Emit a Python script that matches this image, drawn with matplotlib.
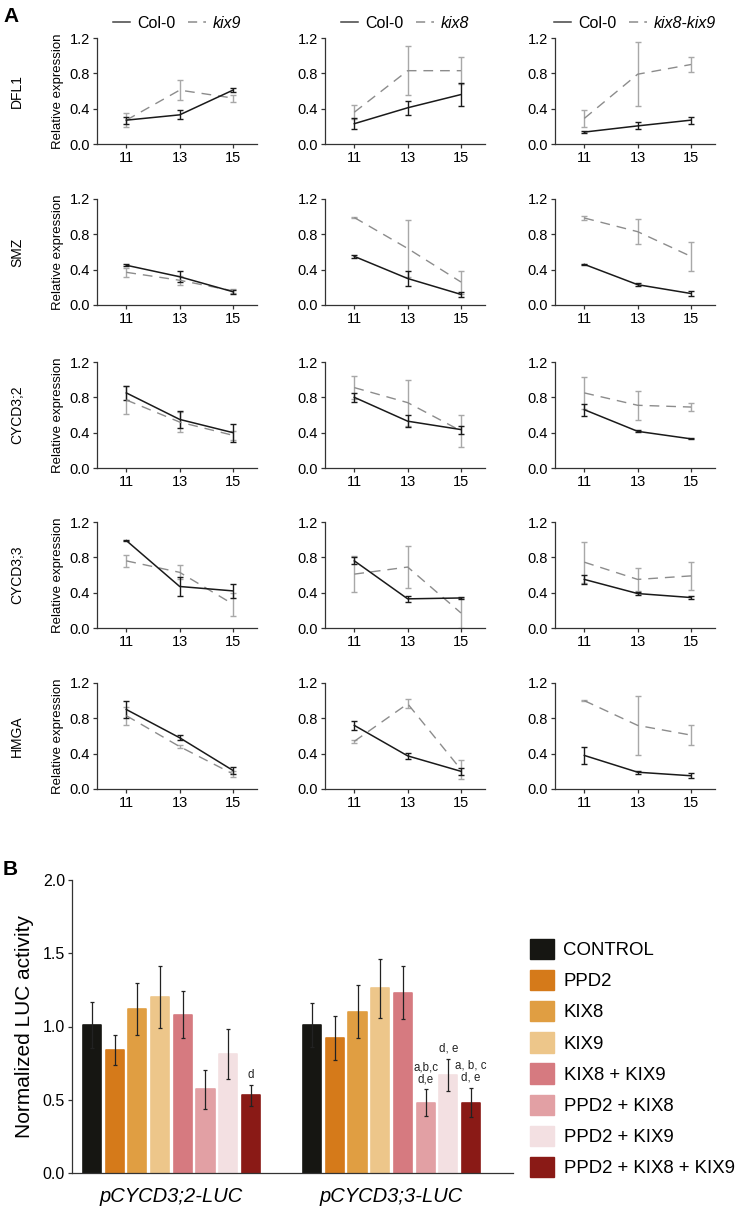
import matplotlib
matplotlib.use("Agg")
import matplotlib.pyplot as plt
from matplotlib.patches import Patch
from matplotlib.lines import Line2D
import numpy as np

plt.rcParams['font.family'] = ['Liberation Sans', 'DejaVu Sans']

W, H = 740, 1211
fig = plt.figure(figsize=(W / 100, H / 100), dpi=100)

def add_ax(x, y, w, h):
    # pixel box (left, top, width, height) -> figure fraction
    return fig.add_axes([x / W, 1 - (y + h) / H, w / W, h / H])

# ---------------- panel A data ----------------
days = [11, 13, 15]
genes = ['DFL1', 'SMZ', 'CYCD3;2', 'CYCD3;3', 'HMGA']
mutants = ['kix9', 'kix8', 'kix8-kix9']

# [gene][column][day]
col0_mean = [
    [[0.27, 0.33, 0.61], [0.23, 0.41, 0.56], [0.135, 0.205, 0.27]],
    [[0.45, 0.32, 0.15], [0.55, 0.30, 0.12], [0.46, 0.23, 0.13]],
    [[0.85, 0.55, 0.40], [0.80, 0.53, 0.435], [0.66, 0.415, 0.33]],
    [[0.99, 0.47, 0.42], [0.76, 0.33, 0.34], [0.55, 0.39, 0.345]],
    [[0.90, 0.58, 0.21], [0.72, 0.375, 0.20], [0.38, 0.19, 0.15]],
]
col0_err = [
    [[0.04, 0.05, 0.02], [0.065, 0.08, 0.13], [0.015, 0.04, 0.04]],
    [[0.01, 0.06, 0.02], [0.02, 0.09, 0.03], [0.005, 0.015, 0.03]],
    [[0.08, 0.10, 0.10], [0.05, 0.07, 0.045], [0.07, 0.01, 0.005]],
    [[0.005, 0.11, 0.075], [0.04, 0.03, 0.015], [0.05, 0.02, 0.02]],
    [[0.095, 0.03, 0.04], [0.05, 0.035, 0.04], [0.10, 0.015, 0.03]],
]
mut_mean = [
    [[0.27, 0.61, 0.52], [0.36, 0.83, 0.83], [0.29, 0.79, 0.90]],
    [[0.37, 0.28, 0.16], [0.99, 0.64, 0.26], [0.985, 0.83, 0.55]],
    [[0.77, 0.52, 0.37], [0.91, 0.74, 0.42], [0.85, 0.71, 0.69]],
    [[0.76, 0.63, 0.27], [0.61, 0.69, 0.17], [0.745, 0.55, 0.59]],
    [[0.83, 0.48, 0.17], [0.54, 0.965, 0.22], [1.0, 0.72, 0.61]],
]
mut_err = [
    [[0.08, 0.11, 0.04], [0.08, 0.28, 0.15], [0.10, 0.36, 0.08]],
    [[0.05, 0.05, 0.02], [0.005, 0.32, 0.13], [0.02, 0.14, 0.16]],
    [[0.16, 0.11, 0.05], [0.13, 0.26, 0.18], [0.18, 0.165, 0.045]],
    [[0.07, 0.08, 0.13], [0.20, 0.24, 0.17], [0.23, 0.13, 0.16]],
    [[0.10, 0.02, 0.03], [0.02, 0.05, 0.105], [0.005, 0.33, 0.11]],
]

col_left = [97, 325, 555]
ax_w = 160
row_top = [38, 199, 362, 522, 683]
ax_h = 106

for r, gene in enumerate(genes):
    for c in range(3):
        ax = add_ax(col_left[c], row_top[r], ax_w, ax_h)
        ax.errorbar(days, mut_mean[r][c], yerr=mut_err[r][c], color='#8c8c8c',
                    ecolor='#a8a8a8', elinewidth=1.0, capsize=2, capthick=1.0,
                    lw=1.0, ls=(0, (7, 5)), label=mutants[c])
        ax.errorbar(days, col0_mean[r][c], yerr=col0_err[r][c], color='#1a1a1a',
                    ecolor='#1a1a1a', elinewidth=1.0, capsize=2, capthick=1.0,
                    lw=1.1, label='Col-0')
        ax.set_xlim(9.9, 15.9)
        ax.set_ylim(0, 1.2)
        ax.set_xticks(days)
        ax.set_yticks([0, 0.4, 0.8, 1.2])
        ax.set_yticklabels(['0.0', '0.4', '0.8', '1.2'])
        for s in ['top', 'right']:
            ax.spines[s].set_visible(False)
        for s in ['left', 'bottom']:
            ax.spines[s].set_color('#333333')
            ax.spines[s].set_linewidth(0.9)
        ax.tick_params(labelsize=10.5, length=3, width=0.9, color='#333333', pad=2)
        if c == 0:
            ax.set_ylabel('Relative expression', fontsize=9.5, labelpad=4)
            fig.text(17 / W, 1 - (row_top[r] + ax_h / 2) / H, gene, rotation=90,
                     ha='center', va='center', fontsize=10)
        if r == 0:
            h = [Line2D([], [], color='#444444', lw=1.1),
                 Line2D([], [], color='#8c8c8c', lw=1.1, ls=(0, (6, 4)))]
            leg = ax.legend(h, ['Col-0', mutants[c]], loc='lower center',
                            bbox_to_anchor=(0.5, 1.07), ncol=2, frameon=False,
                            fontsize=11.5, handlelength=1.1, handletextpad=0.45,
                            columnspacing=0.8, borderaxespad=0, borderpad=0)
            leg.get_texts()[1].set_fontstyle('italic')

fig.text(3 / W, 1 - 7 / H, 'A', fontsize=15, fontweight='bold', va='top')

# ---------------- panel B data ----------------
treatments = ['CONTROL', 'PPD2', 'KIX8', 'KIX9', 'KIX8 + KIX9',
              'PPD2 + KIX8', 'PPD2 + KIX9', 'PPD2 + KIX8 + KIX9']
bar_colors = ['#161612', '#d57a1a', '#e09e42', '#edc68a', '#d67a80',
              '#e2a0a4', '#f3e0e2', '#8a1a16']
promoters = ['pCYCD3;2-LUC', 'pCYCD3;3-LUC']
luc_mean = [
    [1.01, 0.84, 1.12, 1.20, 1.08, 0.57, 0.81, 0.53],
    [1.01, 0.92, 1.10, 1.26, 1.23, 0.48, 0.67, 0.48],
]
luc_err = [
    [0.16, 0.10, 0.18, 0.21, 0.16, 0.13, 0.17, 0.07],
    [0.15, 0.15, 0.18, 0.20, 0.18, 0.09, 0.11, 0.10],
]
sig_labels = [
    {7: 'd'},
    {5: 'a,b,c\nd,e', 6: 'd, e', 7: 'a, b, c\nd, e'},
]

group_gap = 9.7
axb = add_ax(72, 880, 441, 293)
for g in range(2):
    xs = np.arange(8) + g * group_gap
    axb.bar(xs, luc_mean[g], width=0.8, color=bar_colors, edgecolor=bar_colors,
            linewidth=1.2, joinstyle='round')
    axb.errorbar(xs, luc_mean[g], yerr=luc_err[g], fmt='none', ecolor='#222222',
                 elinewidth=0.9, capsize=1.5, capthick=0.9)
    for i, txt in sig_labels[g].items():
        axb.text(xs[i], luc_mean[g][i] + luc_err[g][i] + 0.03, txt, ha='center',
                 va='bottom', fontsize=8.3, color='#222222', linespacing=1.0)

axb.set_xlim(-0.88, 18.55)
axb.set_ylim(0, 2.0)
axb.set_yticks([0, 0.5, 1.0, 1.5, 2.0])
axb.set_yticklabels(['0.0', '0.5', '1.0', '1.5', '2.0'])
axb.set_xticks([3.5, 3.5 + group_gap])
axb.set_xticklabels(promoters, fontstyle='italic', fontsize=14.5)
axb.tick_params(axis='x', length=0, pad=10)
axb.tick_params(axis='y', labelsize=11.5, length=3, width=0.9, color='#333333', pad=2)
for s in ['top', 'right']:
    axb.spines[s].set_visible(False)
for s in ['left', 'bottom']:
    axb.spines[s].set_color('#333333')
    axb.spines[s].set_linewidth(0.9)
axb.set_ylabel('Normalized LUC activity', fontsize=15, labelpad=6)

handles = [Patch(facecolor=c, edgecolor=c) for c in bar_colors]
fig.legend(handles, treatments, loc='center left',
           bbox_to_anchor=(530 / W, 1 - 1058 / H), frameon=False, fontsize=13.4,
           handlelength=1.3, handleheight=1.3, handletextpad=0.5,
           labelspacing=0.58, borderpad=0, borderaxespad=0)

fig.text(3 / W, 1 - 860 / H, 'B', fontsize=15, fontweight='bold', va='top')

fig.savefig('out.png', dpi=100)
